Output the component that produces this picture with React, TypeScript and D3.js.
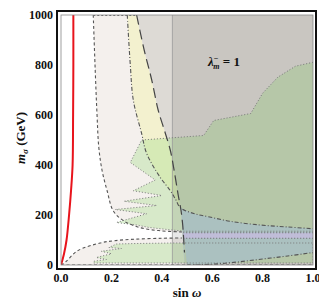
import React from "react";
import * as d3 from "d3";

// sin(omega), m_sigma (GeV)
const redCurve: [number, number][] = [[0, 0], [0.012, 45], [0.022, 100], [0.032, 200], [0.04, 300], [0.046, 400], [0.048, 600], [0.049, 800], [0.049, 1000]];
const dashedUpper: [number, number][] = [[0.128, 1000], [0.135, 800], [0.143, 600], [0.15, 470], [0.163, 378], [0.183, 297], [0.207, 217], [0.248, 177], [0.315, 149], [0.394, 137], [0.48, 132]];
const dashedLower: [number, number][] = [[0, 0], [0.02, 14], [0.064, 56], [0.155, 88], [0.21, 97], [0.29, 103], [0.4, 107], [0.48, 108]];
const dashDotUpper: [number, number][] = [[0.263, 1000], [0.275, 800], [0.287, 659], [0.32, 526], [0.34, 446], [0.394, 350], [0.434, 297], [0.455, 262], [0.474, 229], [0.53, 205], [0.59, 192], [0.67, 175], [0.79, 160], [0.9, 152], [1.0, 145]];
const dashDotLower: [number, number][] = [[0.5, 0], [0.6, 3], [0.7, 12], [0.8, 24], [0.9, 36], [1.0, 50]];
const longDash: [number, number][] = [[0.3, 1000], [0.33, 860], [0.36, 740], [0.386, 618], [0.41, 540], [0.434, 458], [0.452, 360], [0.465, 280], [0.476, 220], [0.483, 160], [0.487, 100], [0.49, 50]];
const greenUpper: [number, number][] = [[1.0, 811], [0.93, 795], [0.86, 751], [0.8, 687], [0.753, 606], [0.606, 578], [0.566, 518], [0.32, 500], [0.275, 410], [0.374, 340], [0.287, 297], [0.4, 278], [0.25, 255], [0.38, 238], [0.215, 222], [0.34, 205], [0.22, 170], [0.3, 160], [0.35, 150], [0.44, 140], [0.49, 135], [1.0, 135]];
const greenLower: [number, number][] = [[0.13, 8], [1.0, 8], [1.0, 88], [0.45, 88], [0.3, 86], [0.22, 84], [0.19, 70], [0.24, 66], [0.16, 55], [0.2, 45], [0.14, 30], [0.18, 22], [0.13, 15]];
const purpleBand: [number, number] = [107, 129];
const purpleX: [number, number] = [0.485, 1.0];
const shadeFrom = 0.442;

const xTicks = [0, 0.2, 0.4, 0.6, 0.8, 1.0];
const yTicks = [0, 200, 400, 600, 800, 1000];

const x = d3.scaleLinear().domain([0, 1]).range([61, 313]);
const y = d3.scaleLinear().domain([0, 1000]).range([265, 15]);

const smooth = d3.curveCatmullRom.alpha(0.5);
const line = (pts: [number, number][], curve: any = smooth) =>
  d3.line<[number, number]>().x(d => x(d[0])).y(d => y(d[1])).curve(curve)(pts) || "";
const poly = (...segs: string[]) => segs.map((s, i) => (i ? s.replace(/^M/, "L") : s)).join("") + "Z";
const rev = (p: [number, number][]) => p.slice().reverse();

export default function App() {
  const serif = "'Liberation Serif', 'Times New Roman', serif";

  const whitePath = poly(
    line([[0, 1000]], d3.curveLinear),
    line(dashedUpper),
    line(rev(dashedLower))
  );
  const yellowPath = poly(line(dashDotUpper.slice(0, 9)), line(rev(longDash.slice(0, 9))));
  const grayPath = poly(line(longDash), line([[0.49, 0], [1, 0], [1, 1000]], d3.curveLinear));
  const bluePath = poly(
    line(longDash.slice(8)),
    line([[0.49, 0]], d3.curveLinear),
    line(dashDotLower),
    line(rev(dashDotUpper.slice(8)))
  );

  return (
    <svg width={319} height={300} style={{ position: "absolute", left: 0, top: 0 }}>
      <defs>
        <clipPath id="plotClip">
          <rect x={x(0)} y={y(1000)} width={x(1) - x(0)} height={y(0) - y(1000)} />
        </clipPath>
      </defs>
      <rect width={319} height={300} fill="#fff" />
      <g clipPath="url(#plotClip)">
        <rect x={x(0)} y={y(1000)} width={x(1) - x(0)} height={y(0) - y(1000)} fill="#f4f0ed" />
        <path d={whitePath} fill="#fff" />
        <path d={yellowPath} fill="#f3f1cf" />
        <path d={grayPath} fill="#dddad5" />
        <path d={line(greenUpper, d3.curveLinear) + "Z"} fill="#a0dc88" fillOpacity={0.35} />
        <path d={line(greenLower, d3.curveLinear) + "Z"} fill="#a0dc88" fillOpacity={0.35} />
        <path d={bluePath} fill="#bcd5d4" />
        <rect x={x(purpleX[0])} y={y(purpleBand[1])} width={x(purpleX[1]) - x(purpleX[0])}
          height={y(purpleBand[0]) - y(purpleBand[1])} fill="#d4d0ee" />
        <rect x={x(shadeFrom)} y={y(1000)} width={x(1) - x(shadeFrom)} height={y(0) - y(1000)} fill="#000" fillOpacity={0.09} />
        <line x1={x(shadeFrom)} x2={x(shadeFrom)} y1={y(1000)} y2={y(0)} stroke="#999" strokeWidth={0.8} />

        {/* outlines */}
        <path d={line(greenUpper, d3.curveLinear)} fill="none" stroke="#777" strokeWidth={1} strokeDasharray="1,2" />
        <path d={line(greenLower, d3.curveLinear) + "Z"} fill="none" stroke="#777" strokeWidth={1} strokeDasharray="1,2" />
        {[purpleBand[0], purpleBand[1]].map(v => (
          <line key={v} x1={x(purpleX[0])} x2={x(1)} y1={y(v)} y2={y(v)} stroke="#666" strokeWidth={1} strokeDasharray="1,2" />
        ))}
        <path d={line(dashedUpper)} fill="none" stroke="#555" strokeWidth={1.1} strokeDasharray="3,2.5" />
        <path d={line(dashedLower)} fill="none" stroke="#555" strokeWidth={1.1} strokeDasharray="3,2.5" />
        <line x1={x(0)} x2={x(1)} y1={y(0)} y2={y(0)} stroke="#555" strokeWidth={1.1} strokeDasharray="3,2.5" />
        <line x1={x(0.128)} x2={x(0.3)} y1={y(1000) + 0.5} y2={y(1000) + 0.5} stroke="#666" strokeWidth={1} strokeDasharray="2,2" />
        <path d={line(dashDotUpper)} fill="none" stroke="#555" strokeWidth={1.1} strokeDasharray="4,2,1,2" />
        <path d={line(dashDotLower)} fill="none" stroke="#555" strokeWidth={1.1} strokeDasharray="4,2,1,2" />
        <path d={line(longDash)} fill="none" stroke="#444" strokeWidth={1.2} strokeDasharray="10,5" />
        <path d={line(redCurve)} fill="none" stroke="#e8141c" strokeWidth={2} />
      </g>
      <rect x={x(0)} y={y(1000)} width={x(1) - x(0)} height={y(0) - y(1000)} fill="none" stroke="#888" strokeWidth={0.8} />
      <rect x={57} y={11} width={259} height={258} fill="none" stroke="#111" strokeWidth={2} />

      <g fontFamily={serif} fontWeight="bold" fontSize={12} fill="#111">
        {xTicks.map(t => (
          <text key={t} x={x(t)} y={282} textAnchor="middle">{t.toFixed(1)}</text>
        ))}
        {yTicks.map(t => (
          <text key={t} x={53} y={y(t) + 4} textAnchor="end">{t}</text>
        ))}
        <text x={187} y={297} textAnchor="middle" fontSize={13}>
          sin <tspan fontStyle="italic">ω</tspan>
        </text>
        <text transform="translate(25,138) rotate(-90)" textAnchor="middle" fontSize={13}>
          <tspan fontStyle="italic">m</tspan>
          <tspan fontStyle="italic" fontSize={9} dy={3}>σ</tspan>
          <tspan dy={-3}> (GeV)</tspan>
        </text>
        <text x={208} y={66} fontSize={13}>
          <tspan fontStyle="italic">λ</tspan>
          <tspan fontSize={8} dy={-5}>−</tspan>
          <tspan fontSize={8} fontStyle="italic" dx={-5} dy={8}>m</tspan>
          <tspan dy={-3}> = 1</tspan>
        </text>
      </g>
    </svg>
  );
}
